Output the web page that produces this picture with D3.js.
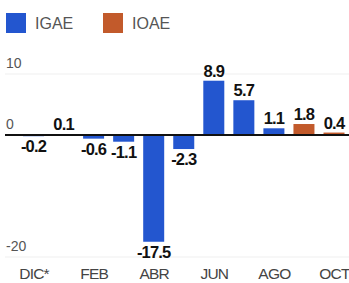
<!DOCTYPE html>
<html lang="es">
<head>
<meta charset="UTF-8">
<title>IGAE / IOAE</title>
<script src="https://d3js.org/d3.v7.min.js"></script>
<style>
body { margin: 0; background: #fff; overflow: hidden; }
text { font-family: "Liberation Sans", Arial, sans-serif; }
.val { font-weight: bold; font-size: 16.5px; fill: #111; letter-spacing: -0.8px; }
.ytick text { font-size: 14px; fill: #555; }
.xtick text { font-size: 15.5px; fill: #444; letter-spacing: -0.8px; }
.legend text { font-size: 16px; fill: #555; }
</style>
</head>
<body>
<svg width="349" height="283"></svg>
<script>
// months shown in the chart (Dec to Oct)
const months = ['DIC*', 'ENE', 'FEB', 'MAR', 'ABR', 'MAY', 'JUN', 'JUL', 'AGO', 'SEP', 'OCT'];
const values = [-0.2, 0.1, -0.6, -1.1, -17.5, -2.3, 8.9, 5.7, 1.1, 1.8, 0.4];
const seriesOf = ['IGAE', 'IGAE', 'IGAE', 'IGAE', 'IGAE', 'IGAE', 'IGAE', 'IGAE', 'IGAE', 'IOAE', 'IOAE'];
const xTickLabels = ['DIC*', 'FEB', 'ABR', 'JUN', 'AGO', 'OCT'];
const yTicks = [10, 0, -20];
const seriesNames = ['IGAE', 'IOAE'];

const color = d3.scaleOrdinal().domain(seriesNames).range(['#2356cf', '#c25a2b']);

const svg = d3.select('svg');
const data = months.map((m, i) => ({ month: m, value: values[i], series: seriesOf[i] }));

const x = d3.scalePoint().domain(months).range([33.5, 334]);
const y = d3.scaleLinear().domain([-20, 10]).range([257, 74]);
const barW = 21;

// faint gridlines
svg.append('g').selectAll('line')
  .data(yTicks.filter(d => d !== 0))
  .join('line')
    .attr('x1', 5).attr('x2', 349)
    .attr('y1', d => y(d)).attr('y2', d => y(d))
    .attr('stroke', '#efefef');

// y tick labels sit above their line
const yAxis = d3.axisRight(y).tickValues(yTicks).tickSize(0).tickFormat(d => String(d));
svg.append('g')
  .attr('class', 'ytick')
  .attr('transform', 'translate(4,0)')
  .call(yAxis)
  .call(g => g.select('.domain').remove())
  .call(g => g.attr('font-family', null).attr('font-size', null))
  .selectAll('text').attr('x', 2).attr('dy', '-0.45em');

// bars
svg.append('g').selectAll('rect')
  .data(data)
  .join('rect')
    .attr('x', d => x(d.month) - barW / 2)
    .attr('width', barW)
    .attr('y', d => y(Math.max(0, d.value)))
    .attr('height', d => Math.abs(y(d.value) - y(0)))
    .attr('fill', d => color(d.series));

// zero line
svg.append('line')
  .attr('x1', 5).attr('x2', 349)
  .attr('y1', y(0)).attr('y2', y(0))
  .attr('stroke', '#111').attr('stroke-width', 2);

// value labels (plain hyphen as minus, like the print)
svg.append('g').selectAll('text')
  .data(data)
  .join('text')
    .attr('class', 'val')
    .attr('text-anchor', 'middle')
    .attr('x', d => x(d.month))
    .attr('y', d => d.value >= 0 ? y(d.value) - 4 : y(d.value) + 16)
    .text(d => d.value.toFixed(1));

// x labels
const xAxis = d3.axisBottom(x).tickValues(xTickLabels).tickSize(0);
svg.append('g')
  .attr('class', 'xtick')
  .attr('transform', 'translate(0,265)')
  .call(xAxis)
  .call(g => g.select('.domain').remove())
  .call(g => g.attr('font-family', null).attr('font-size', null));

// legend
const leg = svg.append('g').attr('class', 'legend')
  .selectAll('g').data(seriesNames).join('g')
  .attr('transform', (d, i) => `translate(${6 + i * 97},13)`);
leg.append('rect').attr('width', 20).attr('height', 20).attr('fill', d => color(d));
leg.append('text').attr('x', 29).attr('y', 16).text(d => d);
</script>
</body>
</html>
